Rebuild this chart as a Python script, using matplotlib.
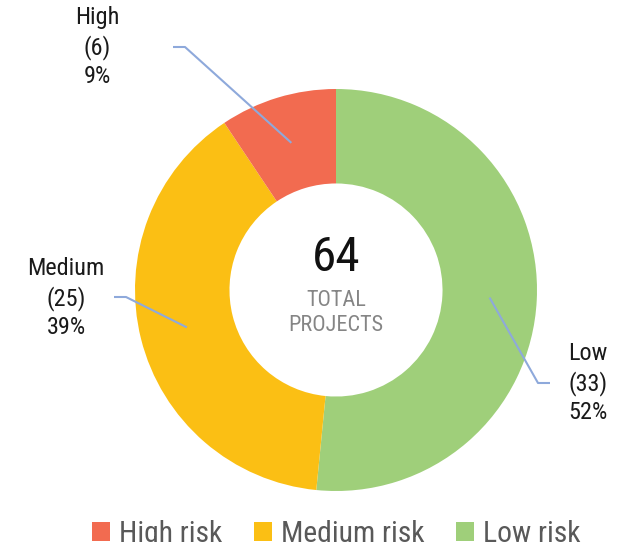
import matplotlib
matplotlib.use("Agg")
import matplotlib.pyplot as plt
import numpy as np
from matplotlib import font_manager
from matplotlib.patches import Patch

# ---- data ----
categories = ["Low", "Medium", "High"]
values = [33, 25, 6]
legend_labels = ["High risk", "Medium risk", "Low risk"]
center_title = "TOTAL\nPROJECTS"

colors = {"Low": "#9FCF7A", "Medium": "#FBBF14", "High": "#F26B50"}
line_color = "#8EA9DB"

names = {f.name for f in font_manager.fontManager.ttflist}
FONT = "Roboto"
for cand in ["Roboto Condensed", "Liberation Sans Narrow", "Roboto"]:
    if cand in names:
        FONT = cand
        break
plt.rcParams["font.family"] = [FONT, "DejaVu Sans"]
condensed = FONT != "Roboto"
k = 1.0 if condensed else 0.9

W, H = 640, 542
fig = plt.figure(figsize=(W / 100, H / 100), dpi=100)
ax = fig.add_axes([0, 0, 1, 1])

cx, cy = 336, H - 290
R = 201
ring = 0.47

wedges, _ = ax.pie(values, colors=[colors[c] for c in categories], startangle=90,
                   counterclock=False, radius=R, center=(cx, cy),
                   wedgeprops=dict(width=R * ring, linewidth=0))
ax.set_xlim(0, W)
ax.set_ylim(0, H)
ax.set_aspect("equal")
ax.axis("off")

total = sum(values)

# label layout (pixel coordinates, y from top)
layout = {
    "High":   dict(elbow=(185, 47),  end=(173, 47),  text=(97, 47)),
    "Medium": dict(elbow=(126, 297), end=(114, 297), text=(66, 298)),
    "Low":    dict(elbow=(538, 383), end=(550, 383), text=(588, 383)),
}

rmid = R * (1 - ring / 2)
for w, cat, v in zip(wedges, categories, values):
    ang = np.deg2rad((w.theta1 + w.theta2) / 2)
    sx, sy = cx + rmid * np.cos(ang), cy + rmid * np.sin(ang)
    L = layout[cat]
    ex, ey = L["elbow"]
    tx, ty = L["end"]
    ax.plot([sx, ex, tx], [sy, H - ey, H - ty], color=line_color, lw=1.5,
            solid_capstyle="butt", zorder=5)
    pct = v / total * 100
    ax.text(L["text"][0], H - L["text"][1], f"{cat}\n({v})\n{pct:.0f}%",
            ha="center", va="center", multialignment="center",
            fontsize=17.5 * k, color="#1a1a1a", linespacing=1.31 / k)

ax.text(cx, H - 258, f"{total}", ha="center", va="center", fontsize=35.5, color="#111111")
ax.text(cx, H - 313, center_title, ha="center", va="center", fontsize=16,
        color="#858585", linespacing=1.3)

leg_colors = [colors["High"], colors["Medium"], colors["Low"]]
handles = [Patch(facecolor=c, edgecolor="none") for c in leg_colors]
fs = 21.3 if condensed else 19
fig.legend(handles, legend_labels, loc="center", ncol=3,
           bbox_to_anchor=(336 / W, (H - 534) / H), frameon=False,
           fontsize=fs, handlelength=12.8 / fs, handleheight=12.8 / fs,
           handletextpad=6.5 / fs, columnspacing=23 / fs, borderpad=0,
           labelcolor="#595959")

fig.savefig("out.png", dpi=100)
